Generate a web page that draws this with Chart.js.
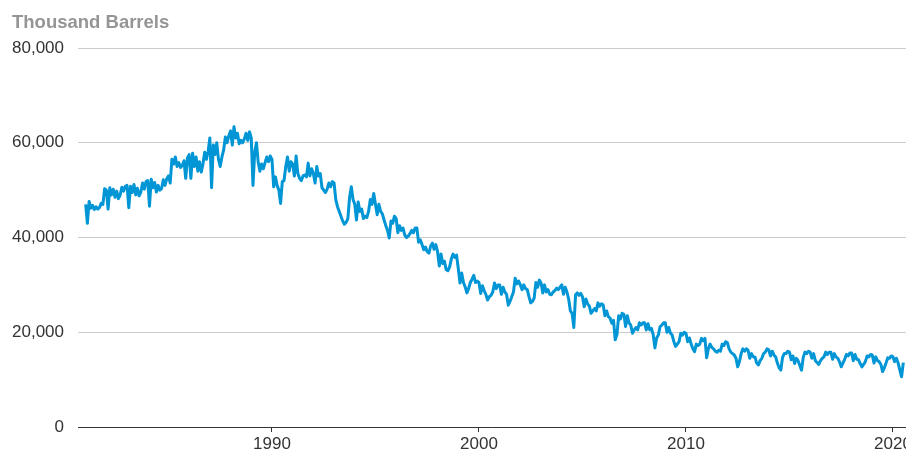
<!DOCTYPE html>
<html>
<head>
<meta charset="utf-8">
<script src="https://cdn.jsdelivr.net/npm/chart.js@4.4.1/dist/chart.umd.min.js"></script>
<style>
html, body { margin: 0; padding: 0; background: #fff; }
#wrap { width: 906px; height: 449px; position: relative; }
</style>
</head>
<body>
<div id="wrap"><canvas id="production"></canvas></div>
<script>
// monthly values, thousand barrels, Jan 1981 .. Jul 2020
startYear = 1981;
xTickYears = [1990, 2000, 2010, 2020];
yTicks = [0, 20000, 40000, 60000, 80000];

prod1980s = [
    47000, 43000, 47600, 46200, 46800, 45900, 46500, 46000, 46300, 47200, 47000, 50300,
    50000, 46000, 50500, 49000, 50200, 48500, 49800, 48200, 49000, 50600, 49800, 50800,
    51000, 46300, 50800, 49500, 51200, 49000, 50400, 48800, 49600, 51500, 50200, 51800,
    52000, 46600, 52300, 50500, 51600, 49600, 51000, 50000, 50300, 52200, 51000, 52400,
    53000, 51500, 56500, 55500, 57000, 55000, 55800, 54800, 55200, 56200, 52500, 56800,
    57500, 52500, 57800, 55000, 57000, 54000, 56000, 53800, 55500, 58000, 56500, 58200,
    61000, 50500, 59500, 57500, 60000, 56500, 55000, 57000, 58500, 61200, 60000, 61500,
    62500, 59500, 63400, 61000, 62000, 59800, 60500, 60000, 60800, 62000, 60500, 62300,
    61000, 51000, 58000, 60000, 56000, 54000, 55500, 54500, 55800, 57000, 56000, 57200
];
prod1990s = [
    56500, 50700, 52800, 51000, 50000, 47200, 51800, 52000, 55000, 57000, 54000, 56000,
    55500, 53000, 57200, 53500, 52500, 52000, 53000, 53200, 52800, 55700, 53000, 54500,
    53500, 51500, 55000, 53000, 53500, 50500, 50000, 49500, 50200, 51500, 50700, 51800,
    51500, 48000, 46500, 45500, 44500, 43500, 42800, 43200, 44000, 48500, 50700, 48000,
    47000, 43700, 47500, 45500, 46000, 44000, 44500, 44200, 45500, 48000, 47000, 49300,
    47000, 44800, 47000, 45500, 45000, 43700, 42500, 41500, 39900, 43500, 43000, 44500,
    44000, 41000, 42500, 41500, 42000, 40500, 40000, 40300, 40800, 41500, 41000, 42000,
    42000, 39000, 39500, 38500, 37400, 38000, 37000, 36700, 38200, 38800, 37500, 38500,
    37000, 34000, 36500, 34500, 35000, 33200, 33000, 33800, 35500, 36500, 35800, 36300,
    33500, 30400, 32500, 30500, 29600, 28300, 29200, 30500, 31200, 32000, 30500, 30800
];
prod2000s = [
    30500, 28200, 29800, 28800, 28000, 26800, 27500, 27800, 28500, 30400, 29200, 30000,
    30000, 28000, 29500, 28500, 28000, 25700, 26500, 27500, 28500, 31400, 30200, 30800,
    30000, 29000, 30000, 29200, 29000, 27500, 26200, 26500, 27200, 30500, 29500, 31000,
    30400, 28300, 30000, 28500, 29000, 28000, 27900, 28500, 28800, 29300, 29000, 29500,
    30000, 28000, 29500, 28500, 27000, 24500, 24000, 21000, 27900, 28300, 27800, 28200,
    27500, 25400, 27000, 26000, 25500, 24000, 24500, 25000, 24500, 26200, 25500, 26000,
    25800, 23500, 24500, 23300, 23000, 21900, 22500, 18400, 19500, 23500, 22800, 24000,
    23800, 21200, 23500, 22000, 21500, 19800, 20500, 21000, 20500, 22000, 21500, 22000,
    22000, 20500, 21800, 20500, 20800, 19500, 16700, 18800, 19400, 21200, 21500, 22000,
    22000, 20000, 21000, 19800, 19400, 18000, 17000, 17500, 18000, 19800, 19400, 20000
];
prod2010s = [
    19800, 18000, 18800, 17500, 16500, 15900, 17500, 17200, 17500, 18700, 18200, 18700,
    14600, 16500, 17500, 16800, 16500, 16000, 15800, 16200, 16000, 17500, 17200, 18000,
    17800, 16500, 15800, 15500, 15200, 14500, 12700, 13800, 15500, 16500, 16000, 16500,
    16200, 14500, 15500, 14800, 14800, 13500, 13100, 14000, 14500, 15500, 15800, 16500,
    16300, 15000, 16000, 15200, 14800, 13500, 12500, 12000, 14700, 15500, 15500, 16000,
    15800, 14200, 15000, 13400, 14500, 14000, 13000, 12000, 14700, 15800, 15500, 16000,
    15800, 14500, 15500, 14000, 13600, 13200, 14000, 14500, 14800, 15800, 15300, 15800,
    15800, 14300, 15500, 14800, 14500, 13800, 12700, 13500, 14300, 15300, 15000, 15600,
    15600, 14000, 15300, 14300, 14200, 13400, 12700, 13200, 13800, 15000, 14800, 15300,
    15200, 13500, 14800, 14000, 13800, 13200, 11700, 12500, 13500, 14600, 14500, 15000
];
prod2020 = [14800, 13800, 14500, 13500, 12000, 10600, 13600];

allValues = prod1980s.concat(prod1990s, prod2000s, prod2010s, prod2020);
points = allValues.map((v, i) => { return {x: startYear + i / 12, y: v} });

const ctx = document.getElementById('production');
const chart = new Chart(ctx, {
    type: 'line',
    data: {
        datasets: [{
            label: 'Thousand Barrels',
            data: points,
            borderColor: '#0096d6',
            borderWidth: 3,
            borderJoinStyle: 'round',
            pointRadius: 0,
            tension: 0,
            fill: false
        }]
    },
    options: {
        responsive: true,
        maintainAspectRatio: false,
        animation: false,
        layout: {
            padding: {left: 12, right: 0, top: 0, bottom: 0}
        },
        scales: {
            x: {
                type: 'linear',
                min: 1980.63,
                max: 2020.63,
                afterBuildTicks: scale => {
                    scale.ticks = xTickYears.map(v => ({value: v}));
                },
                afterFit: scale => {
                    scale.height = 22;
                    scale.paddingLeft = 0;
                    scale.paddingRight = 0;
                },
                grid: {
                    drawOnChartArea: false,
                    drawTicks: true,
                    tickLength: 5,
                    color: '#333'
                },
                border: {display: true, color: '#333', width: 1},
                ticks: {
                    autoSkip: false,
                    maxRotation: 0,
                    padding: 2,
                    color: '#333',
                    font: {family: '"Liberation Sans", Arial, sans-serif', size: 17},
                    callback: v => String(v)
                }
            },
            y: {
                min: 0,
                max: 80000,
                afterBuildTicks: scale => {
                    scale.ticks = yTicks.map(v => ({value: v}));
                },
                afterFit: scale => {
                    scale.width = 66;
                    scale.paddingTop = 0;
                    scale.paddingBottom = 0;
                },
                grid: {
                    drawTicks: false,
                    color: '#cccccc',
                    lineWidth: 1
                },
                border: {display: false},
                ticks: {
                    padding: 14,
                    color: '#333',
                    font: {family: '"Liberation Sans", Arial, sans-serif', size: 17},
                    callback: v => v.toLocaleString('en-US')
                }
            }
        },
        plugins: {
            legend: {display: false},
            tooltip: {enabled: false},
            title: {
                display: true,
                text: 'Thousand Barrels',
                align: 'start',
                color: '#959595',
                font: {family: '"Liberation Sans", Arial, sans-serif', size: 18.5, weight: 'bold'},
                padding: {top: 12, bottom: 13.8}
            }
        }
    }
});
</script>
</body>
</html>
